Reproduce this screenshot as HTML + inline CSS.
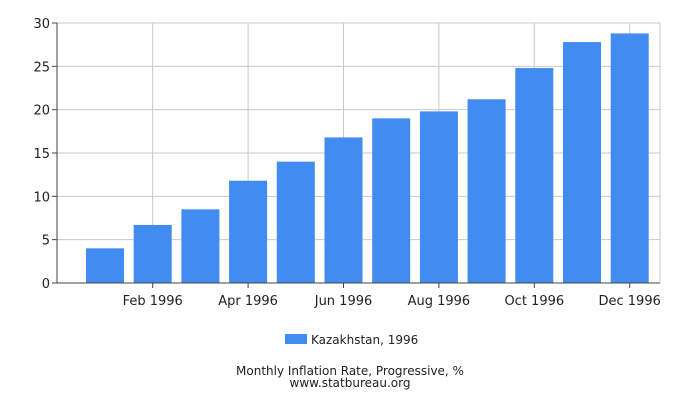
<!DOCTYPE html>
<html><head><meta charset="utf-8"><style>
body{margin:0;background:#fff;font-family:"DejaVu Sans","Liberation Sans",sans-serif;}
svg text{font-family:"DejaVu Sans","Liberation Sans",sans-serif;}
</style></head><body>
<svg id="chart" width="700" height="400">
<g id="grid"></g><g id="bars"></g><g id="axes"></g>
<g>
<rect x="285" y="334" width="22" height="10" fill="#418cf0"/>
<text x="311" y="344" font-size="12" fill="#222">Kazakhstan, 1996</text>
</g>
<text x="350" y="375" font-size="12" text-anchor="middle" fill="#222">Monthly Inflation Rate, Progressive, %</text>
<text x="350" y="387" font-size="12" text-anchor="middle" fill="#222">www.statbureau.org</text>
</svg>
<script>
const categories=["Jan 1996","Feb 1996","Mar 1996","Apr 1996","May 1996","Jun 1996","Jul 1996","Aug 1996","Sep 1996","Oct 1996","Nov 1996","Dec 1996"];
const values=[4.0,6.7,8.5,11.8,14.0,16.8,19.0,19.8,21.2,24.8,27.8,28.8];
const yTicks=[0,5,10,15,20,25,30];
const NS="http://www.w3.org/2000/svg";
const x0=57,x1=660,yTop=23,yBot=283,yMax=30;
const y=v=>yBot-(v/yMax)*(yBot-yTop);
const step=47.7,firstC=105;
const xc=i=>firstC+i*step;
function mk(tag,attrs,parent){const e=document.createElementNS(NS,tag);for(const k in attrs)e.setAttribute(k,attrs[k]);parent.appendChild(e);return e;}
const grid=document.getElementById('grid'),bars=document.getElementById('bars'),axes=document.getElementById('axes');
yTicks.forEach(t=>{
 const l=mk('line',{x1:x0,x2:x1,y1:y(t),y2:y(t),stroke:'#c8c8c8','stroke-width':1},grid);
 
 
 const tk=mk('line',{x1:x0-5,x2:x0,y1:y(t),y2:y(t),stroke:'#444'},axes);
 
 
 const tx=mk('text',{x:x0-7,y:y(t)+5,'font-size':13,'text-anchor':'end',fill:'#222'},axes);
 tx.textContent=t;
 
 
});
mk('line',{x1:x1,x2:x1,y1:yTop,y2:yBot,stroke:'#c8c8c8'},grid);
categories.forEach((c,i)=>{
 if(i%2===1){
  const g=mk('line',{x1:xc(i),x2:xc(i),y1:yTop,y2:yBot,stroke:'#c8c8c8'},grid);
  
  
  const tk=mk('line',{x1:xc(i),x2:xc(i),y1:yBot,y2:yBot+5,stroke:'#444'},axes);
  
  
  const tx=mk('text',{x:xc(i),y:yBot+22,'font-size':13,'text-anchor':'middle',fill:'#222'},axes);
  tx.textContent=c;
  
  
 }
 const b=mk('rect',{x:xc(i)-19,width:38,y:y(values[i]),height:yBot-y(values[i]),fill:'#418cf0'},bars);
 
 
});
const ya=mk('line',{x1:x0,x2:x0,y1:yTop,y2:yBot,stroke:'#444'},axes);


const xa=mk('line',{x1:x0,x2:x1,y1:yBot,y2:yBot,stroke:'#444'},axes);


</script>
</body></html>
